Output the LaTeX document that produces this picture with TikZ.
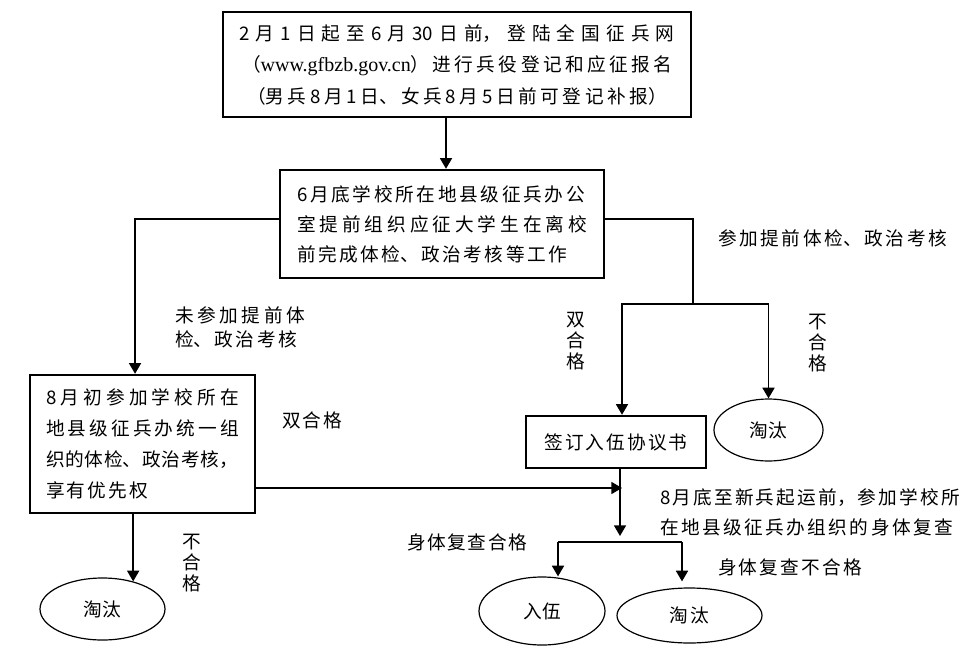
\documentclass[tikz,border=0pt]{standalone}
\usepackage{fontspec}
\setmainfont{Noto Sans CJK SC}
\newfontfamily\lat{Liberation Serif}
\usetikzlibrary{arrows.meta,shapes.geometric}
% stretchable glue between CJK characters
\newXeTeXintercharclass\cjkcls
\newXeTeXintercharclass\cjkopn
\newXeTeXintercharclass\cjkcla
\count255="4E00
\loop
  \XeTeXcharclass\count255=\cjkcls
  \ifnum\count255<"9FFF \advance\count255 by 1 \repeat
\XeTeXcharclass"FF08=\cjkopn
\XeTeXcharclass"FF09=\cjkcla
\XeTeXcharclass"FF0C=\cjkcla
\XeTeXcharclass"3001=\cjkcla
\XeTeXinterchartoks\cjkcls\cjkcls={\hskip0pt plus 1fil\relax}
\XeTeXinterchartoks 0 \cjkcls={\hskip0pt plus 1fil\relax}
\XeTeXinterchartoks\cjkcls 0 ={\hskip0pt plus 1fil\relax}
\XeTeXinterchartoks\cjkcla\cjkcls={\hskip0pt plus 1fil\relax}
\XeTeXinterchartoks\cjkcla 0 ={\hskip0pt plus 1fil\relax}
\XeTeXinterchartoks\cjkcls\cjkopn={\hskip0pt plus 1fil\relax}
\XeTeXinterchartokenstate=1
\newlength\px
\setlength\px{0.75pt}
\newcommand\spr[2]{\makebox[#1\px][s]{#2}}

\begin{document}
\begin{tikzpicture}[x=0.75pt, y=-0.75pt,
    box/.style={draw, line width=1.8pt, rectangle, inner sep=0pt, align=left},
    oval/.style={draw, line width=0.9pt, ellipse, inner sep=0pt},
    lbl/.style={inner sep=0pt, align=left},
    vlbl/.style={inner sep=0pt, align=center, font=\fontsize{14pt}{16pt}\selectfont},
    arr/.style={-{Triangle[width=9pt,length=8pt]}, line width=1.2pt},
    link/.style={line width=1.2pt},
    font=\fontsize{14pt}{22.5pt}\selectfont
]
\useasboundingbox (0,0) rectangle (977,649);

% Boxes
\node[box, align=center, minimum width=351pt, minimum height=78.75pt, font=\fontsize{14pt}{23.6pt}\selectfont] (reg) at (457,64.5)
    {\spr{435}{2月1日起至6月30日前，登陆全国征兵网}\\
     \spr{430}{（{\lat\fontsize{15pt}{15pt}\selectfont www.gfbzb.gov.cn}）进行兵役登记和应征报名}\\
     \spr{420}{（男兵8月1日、女兵8月5日前可登记补报）}};
\node[box, minimum width=243pt, minimum height=81pt] (pre) at (442,224)
    {\spr{288}{6月底学校所在地县级征兵办公}\\
     \spr{290}{室提前组织应征大学生在离校}\\
     \spr{270}{前完成体检、政治考核等工作}};
\node[box, minimum width=168.75pt, minimum height=103.5pt, font=\fontsize{14pt}{23.25pt}\selectfont] (aug) at (142.5,444)
    {\spr{193}{8月初参加学校所在}\\
     \spr{193}{地县级征兵办统一组}\\
     \spr{192}{织的体检、政治考核，}\\
     \spr{102}{享有优先权}};
\node[box, minimum width=135pt, minimum height=39pt] (sign) at (616,442) {\spr{143}{签订入伍协议书}};

% Ellipses
\node[oval, minimum width=81.75pt, minimum height=46.5pt] (out1) at (768.5,430) {\spr{38}{淘汰}};
\node[oval, minimum width=93.75pt, minimum height=46.5pt] (out2) at (102.5,609) {\spr{38}{淘汰}};
\node[oval, minimum width=94.5pt, minimum height=51pt] (enl) at (542,611) {\spr{38}{入伍}};
\node[oval, minimum width=108.75pt, minimum height=41.25pt] (out3) at (689.5,615.5) {\spr{40}{淘汰}};

% Labels
\node[lbl] (early) at (832.5,238) {\spr{229}{参加提前体检、政治考核}};
\node[lbl, font=\fontsize{14pt}{18pt}\selectfont] (noearly) at (240,327)
    {\spr{130}{未参加提前体}\\ \spr{122}{检、政治考核}};
\node[lbl] (pass1) at (312,420) {\spr{60}{双合格}};
\node[vlbl] (pass2) at (576,341) {双\\合\\格};
\node[vlbl] (fail1) at (818,343) {不\\合\\格};
\node[vlbl] (fail2) at (192,563) {不\\合\\格};
\node[lbl] (recheck) at (810,512)
    {\spr{300}{8月底至新兵起运前，参加学校所}\\ \spr{293}{在地县级征兵办组织的身体复查}};
\node[lbl] (rcpass) at (467,542) {\spr{120}{身体复查合格}};
\node[lbl] (rcfail) at (790,567) {\spr{144}{身体复查不合格}};

% Split points
\coordinate (s1) at (693,304);
\coordinate (j1) at (622,488);
\coordinate (s2l) at (558,542);
\coordinate (s2r) at (682,542);

% Connectors
\draw[arr] ([xshift=3pt]pre.north |- reg.south) -- ([xshift=3pt]pre.north);
\draw[arr] ([yshift=3.75pt]pre.west) -| ([xshift=-5.6pt]aug.north);
\draw[link] ([yshift=3.75pt]pre.east) -| (s1);
\draw[arr] (s1) -| ([xshift=4.5pt]sign.north);
\draw[arr] (s1) -| (out1.north);
\draw[arr] ([yshift=-33pt]aug.east) -- (j1);
\draw[arr] ([xshift=3pt]sign.south) -- ([xshift=3pt,yshift=4.5pt]sign.south |- s2l);
\draw[link] (s2l) -- (s2r);
\draw[arr] (s2l) -- (s2l |- enl.north);
\draw[arr] (s2r) -- ([yshift=4.5pt]s2r |- out3.north);
\draw[arr] ([xshift=-7pt]aug.south) -- ([xshift=-7pt,yshift=-3pt]aug.south |- out2.north);

\end{tikzpicture}
\end{document}
